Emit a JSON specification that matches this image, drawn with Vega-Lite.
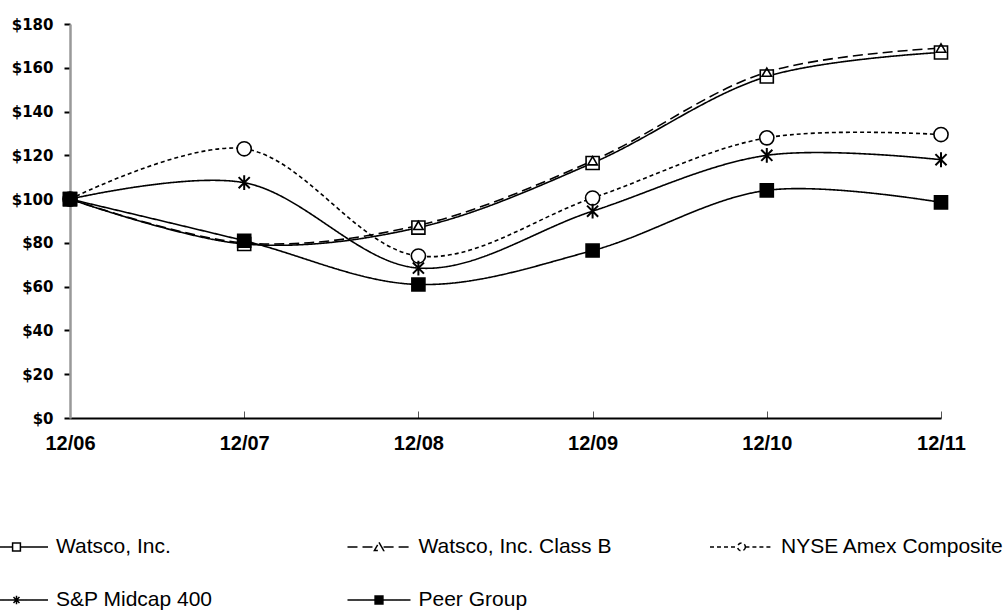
{
  "$schema": "https://vega.github.io/schema/vega-lite/v6.json",
  "width": 871,
  "height": 394,
  "autosize": "none",
  "padding": {"left": 70, "top": 24, "right": 63, "bottom": 192},
  "background": "white",
  "config": {"view": {"stroke": null}},
  "data": {
    "values": [
      {"series": "Watsco, Inc.", "date": "12/06", "value": 100},
      {"series": "Watsco, Inc.", "date": "12/07", "value": 79.5},
      {"series": "Watsco, Inc.", "date": "12/08", "value": 87},
      {"series": "Watsco, Inc.", "date": "12/09", "value": 116.5},
      {"series": "Watsco, Inc.", "date": "12/10", "value": 156},
      {"series": "Watsco, Inc.", "date": "12/11", "value": 167},
      {"series": "Watsco, Inc. Class B", "date": "12/06", "value": 100},
      {"series": "Watsco, Inc. Class B", "date": "12/07", "value": 80},
      {"series": "Watsco, Inc. Class B", "date": "12/08", "value": 88},
      {"series": "Watsco, Inc. Class B", "date": "12/09", "value": 117.5},
      {"series": "Watsco, Inc. Class B", "date": "12/10", "value": 158},
      {"series": "Watsco, Inc. Class B", "date": "12/11", "value": 169},
      {"series": "NYSE Amex Composite", "date": "12/06", "value": 100},
      {"series": "NYSE Amex Composite", "date": "12/07", "value": 123},
      {"series": "NYSE Amex Composite", "date": "12/08", "value": 74},
      {"series": "NYSE Amex Composite", "date": "12/09", "value": 100.5},
      {"series": "NYSE Amex Composite", "date": "12/10", "value": 128},
      {"series": "NYSE Amex Composite", "date": "12/11", "value": 129.5},
      {"series": "S&P Midcap 400", "date": "12/06", "value": 100},
      {"series": "S&P Midcap 400", "date": "12/07", "value": 107.5},
      {"series": "S&P Midcap 400", "date": "12/08", "value": 68.5},
      {"series": "S&P Midcap 400", "date": "12/09", "value": 94.5},
      {"series": "S&P Midcap 400", "date": "12/10", "value": 120},
      {"series": "S&P Midcap 400", "date": "12/11", "value": 118},
      {"series": "Peer Group", "date": "12/06", "value": 100},
      {"series": "Peer Group", "date": "12/07", "value": 81},
      {"series": "Peer Group", "date": "12/08", "value": 61},
      {"series": "Peer Group", "date": "12/09", "value": 76.5},
      {"series": "Peer Group", "date": "12/10", "value": 104},
      {"series": "Peer Group", "date": "12/11", "value": 98.5}
    ]
  },
  "encoding": {
    "x": {
      "field": "date",
      "type": "ordinal",
      "sort": null,
      "scale": {"type": "point", "padding": 0},
      "axis": {
        "title": null,
        "labelAngle": 0,
        "labelFont": "Liberation Sans",
        "labelFontWeight": "bold",
        "labelFontSize": 20,
        "labelColor": "black",
        "labelPadding": 22,
        "domainColor": "black",
        "domainWidth": 2,
        "tickColor": "#555555",
        "tickWidth": 1,
        "tickSize": -7,
        "grid": false
      }
    },
    "y": {
      "field": "value",
      "type": "quantitative",
      "scale": {"domain": [0, 180], "nice": false},
      "axis": {
        "title": null,
        "values": [0, 20, 40, 60, 80, 100, 120, 140, 160, 180],
        "labelExpr": "'$' + datum.value",
        "labelFont": "DejaVu Sans",
        "labelFontWeight": "bold",
        "labelFontSize": 15,
        "labelColor": "black",
        "labelPadding": 11,
        "domainColor": "#999999",
        "domainWidth": 2.5,
        "tickColor": "black",
        "tickWidth": 2,
        "tickSize": 6,
        "grid": false
      }
    }
  },
  "layer": [
    {
      "mark": {"type": "line", "interpolate": "catmull-rom", "color": "black", "strokeWidth": 1.6},
      "encoding": {
        "strokeDash": {
          "field": "series",
          "type": "nominal",
          "scale": {
            "domain": ["Watsco, Inc.", "Watsco, Inc. Class B", "NYSE Amex Composite", "S&P Midcap 400", "Peer Group"],
            "range": [[1, 0], [10, 5], [4, 3], [1, 0], [1, 0]]
          },
          "legend": {
            "title": null,
            "orient": "none",
            "legendX": -77.5,
            "legendY": 499,
            "direction": "horizontal",
            "columns": 3,
            "gridAlign": "all",
            "columnPadding": 64.5,
            "rowPadding": 19,
            "padding": 0,
            "symbolSize": 2116,
            "symbolStrokeWidth": 1.5,
            "symbolStrokeColor": "black",
            "labelOffset": 15.5,
            "labelFont": "Liberation Sans",
            "labelFontSize": 21,
            "labelColor": "black",
            "labelLimit": 400,
            "encoding": {
              "symbols": {
                "shape": {"value": {"expr": "datum.value === 'Watsco, Inc.' ? 'M-1.37,0H-0.17M0.17,0H1.37M-0.17,-0.17H0.17V0.17H-0.17Z' : datum.value === 'Watsco, Inc. Class B' ? 'M-1.37,0H-0.2M0.2,0H1.37M0,-0.2L0.2,0.15H-0.2Z' : datum.value === 'NYSE Amex Composite' ? 'M-1.37,0H-0.17M0.17,0H1.37M0.17,0A0.17,0.17,0,1,1,-0.17,0A0.17,0.17,0,1,1,0.17,0Z' : datum.value === 'S&P Midcap 400' ? 'M-1.37,0H1.37M-0.13,-0.13L0.13,0.13M-0.13,0.13L0.13,-0.13M0,-0.18V0.18' : 'M-1.37,0H1.37M-0.17,-0.17H0.17V0.17H-0.17Z'"}},
                "fill": {"value": {"expr": "datum.value === 'Peer Group' ? 'black' : 'white'"}},
                "stroke": {"value": "black"},
                "strokeWidth": {"value": 1.5},
                "opacity": {"value": 1}
              }
            }
          }
        }
      }
    },
    {
      "transform": [{"filter": "datum.series === 'Watsco, Inc.'"}],
      "mark": {"type": "point", "shape": "square", "size": 170, "filled": true, "fill": "white", "stroke": "black", "strokeWidth": 1.6, "opacity": 1}
    },
    {
      "transform": [{"filter": "datum.series === 'Watsco, Inc. Class B'"}],
      "mark": {"type": "point", "shape": "triangle-up", "size": 90, "filled": true, "fill": "transparent", "stroke": "black", "strokeWidth": 1.6, "opacity": 1}
    },
    {
      "transform": [{"filter": "datum.series === 'NYSE Amex Composite'"}],
      "mark": {"type": "point", "shape": "circle", "size": 200, "filled": true, "fill": "white", "stroke": "black", "strokeWidth": 1.6, "opacity": 1}
    },
    {
      "transform": [{"filter": "datum.series === 'S&P Midcap 400'"}],
      "mark": {"type": "point", "shape": "M-0.75,-0.75L0.75,0.75M-0.75,0.75L0.75,-0.75M0,-1L0,1", "size": 220, "filled": false, "stroke": "black", "strokeWidth": 2, "opacity": 1}
    },
    {
      "transform": [{"filter": "datum.series === 'Peer Group'"}],
      "mark": {"type": "point", "shape": "square", "size": 170, "filled": true, "fill": "black", "stroke": "black", "strokeWidth": 1.6, "opacity": 1}
    }
  ]
}
